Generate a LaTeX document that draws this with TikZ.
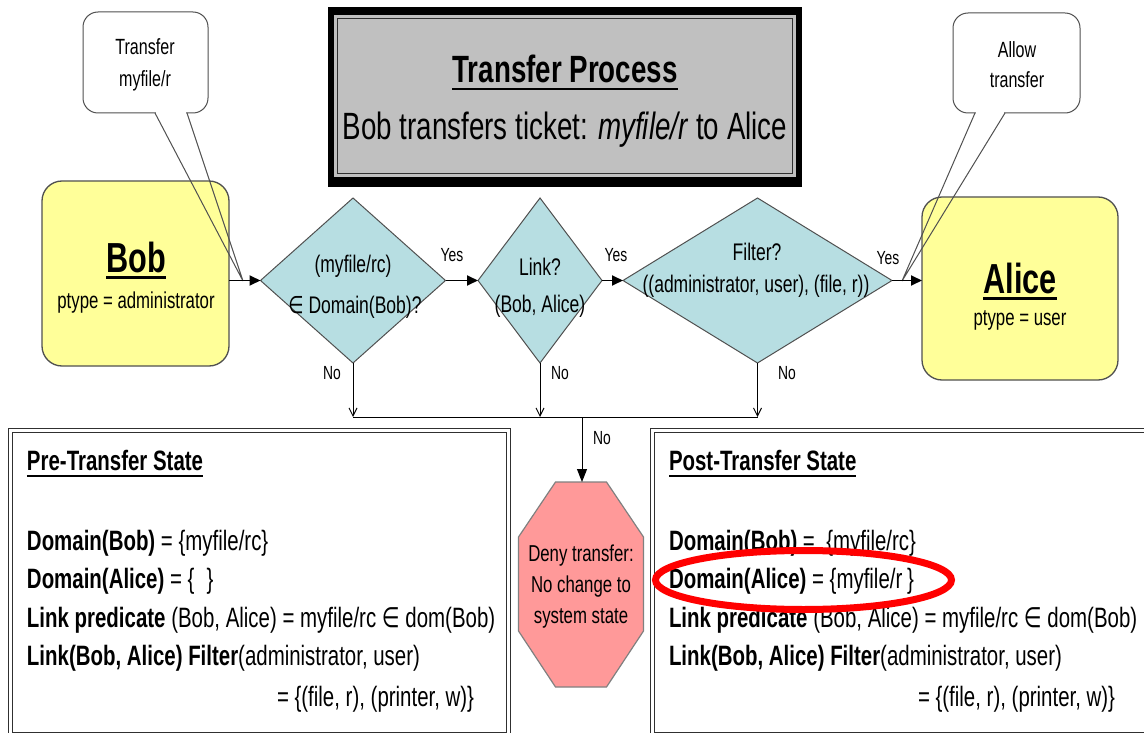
\documentclass[tikz,border=0pt]{standalone}
\usepackage{fontspec}
\setmainfont{Liberation Sans}[FakeStretch=0.73]
\newfontfamily\symfont{DejaVu Sans}[FakeStretch=0.73]
\usetikzlibrary{arrows.meta,shapes.geometric,calc,backgrounds}

\definecolor{boxyellow}{RGB}{255,255,153}
\definecolor{decisionteal}{RGB}{183,222,226}
\definecolor{denyred}{RGB}{255,153,153}
\definecolor{titlegray}{RGB}{192,192,192}
\definecolor{edgegray}{RGB}{80,80,80}
\definecolor{framegray}{RGB}{48,48,48}

% text with an underline of given gap below the baseline and thickness
\newcommand\ulined[3]{\setbox0=\hbox{#3}\rlap{\vrule width\wd0 height -#1 depth \dimexpr#1+#2\relax}\box0}
\newcommand\fs[1]{\fontsize{#1}{#1}\selectfont}

\begin{document}
\begin{tikzpicture}[x=1pt,y=-1pt,
  every node/.style={inner sep=0pt,outer sep=0pt},
  actor/.style={draw=edgegray,line width=1.3pt,fill=boxyellow,rounded corners=20pt},
  calloutbox/.style={draw=edgegray,line width=1pt,fill=white,rounded corners=15pt},
  calloutline/.style={draw=edgegray,line width=1pt},
  decision/.style={diamond,draw=edgegray,line width=1pt,fill=decisionteal},
  flow/.style={line width=1.8pt,-{Triangle[length=11pt,width=10pt]}},
  noflow/.style={line width=1pt,-{Straight Barb[length=8pt,width=8pt]}},
  denyflow/.style={line width=1pt,-{Triangle[length=13pt,width=10pt]}},
  lbl/.style={font=\fs{19}},
  dtext/.style={anchor=base,font=\fs{24}},
  statetext/.style={anchor=base west,font=\fs{28}},
  stateframe/.style={draw=framegray,line width=1pt}]
\useasboundingbox (0,0) rectangle (1144,733);

% ---------- title panel ----------
\fill[black] (328,7) rectangle (802,187);
\fill[titlegray] (334,15) rectangle (796,177);
\draw[framegray,line width=1.2pt] (337.5,18.5) rectangle (792.5,173.5);
\node[anchor=base,font=\fs{38}\bfseries] (title) at (565,83) {\ulined{5pt}{2pt}{Transfer Process}};
\node[anchor=base,font=\fs{38}] (subtitle) at (565,140) {Bob transfers ticket: \textit{myfile/r} to Alice};

% ---------- state panels ----------
\draw[stateframe] (8,428) rectangle (510,745);
\draw[stateframe] (12,432) rectangle (506,732);
\draw[stateframe] (650,428) rectangle (1160,745);
\draw[stateframe] (654,432) rectangle (1156,732);

\node[statetext] (pretitle) at (27,470) {\bfseries\ulined{5pt}{1.5pt}{Pre-Transfer State}};
\node[statetext] (pre1) at (27,550) {\textbf{Domain(Bob)} = \{myfile/rc\}};
\node[statetext] (pre2) at (27,588) {\textbf{Domain(Alice)} = \{\hspace{12pt}\}};
\node[statetext] (pre3) at (27,627) {\textbf{Link predicate} (Bob, Alice) = myfile/rc {\symfont ∈} dom(Bob)};
\node[statetext] (pre4) at (27,665) {\textbf{Link(Bob, Alice) Filter}(administrator, user)};
\node[statetext] (pre5) at (277,706) {= \{(file, r), (printer, w)\}};

\node[statetext] (posttitle) at (669,470) {\bfseries\ulined{5pt}{1.5pt}{Post-Transfer State}};
\node[statetext] (post1) at (669,550) {\textbf{Domain(Bob)} = \ \{myfile/rc\}};
\node[statetext] (post2) at (669,588) {\textbf{Domain(Alice)} = \{myfile/r\,\}};
\node[statetext] (post3) at (669,627) {\textbf{Link predicate} (Bob, Alice) = myfile/rc {\symfont ∈} dom(Bob)};
\node[statetext] (post4) at (669,665) {\textbf{Link(Bob, Alice) Filter}(administrator, user)};
\node[statetext] (post5) at (918,706) {= \{(file, r), (printer, w)\}};

% ---------- principals ----------
\node[actor,minimum width=187pt,minimum height=185pt] (bob) at (135.5,273.5) {};
\node[anchor=base,font=\fs{42}\bfseries] (bobname) at (136,272) {\ulined{4pt}{3pt}{Bob}};
\node[anchor=base,font=\fs{23}] (bobtype) at (136,308) {ptype = administrator};

\node[actor,minimum width=196pt,minimum height=183pt] (alice) at (1020,288.5) {};
\node[anchor=base,font=\fs{42}\bfseries] (alicename) at (1020,293) {\ulined{4pt}{3pt}{Alice}};
\node[anchor=base,font=\fs{23}] (alicetype) at (1020,325) {ptype = user};

% ---------- speech callouts ----------
\node[calloutbox,minimum width=125pt,minimum height=101pt] (callbob) at (145.5,62.5) {};
\node[anchor=base,font=\fs{22}] (callbob1) at (145,55) {Transfer};
\node[anchor=base,font=\fs{22}] (callbob2) at (145,87) {myfile/r};
\coordinate (bobtip) at (243,281);
\draw[white,line width=2.5pt] (156,113) -- (186,113);
\draw[calloutline] (155,113) -- (bobtip) -- (187,113);

\node[calloutbox,minimum width=127pt,minimum height=100pt] (callalice) at (1016.5,63) {};
\node[anchor=base,font=\fs{22}] (callalice1) at (1017,58) {Allow};
\node[anchor=base,font=\fs{22}] (callalice2) at (1017,88) {transfer};
\coordinate (alicetip) at (902,281);
\draw[white,line width=2.5pt] (976,113) -- (1004,113);
\draw[calloutline] (975,113) -- (alicetip) -- (1005,113);

% ---------- decisions ----------
\node[decision,minimum width=185pt,minimum height=165pt] (d1) at (353,280.5) {};
\node[dtext] (d1a) at (353,272) {(myfile/rc)};
\node[dtext] (d1b) at (355,313) {{\symfont ∈} Domain(Bob)?};

\node[decision,minimum width=124pt,minimum height=165pt] (d2) at (540,280.5) {};
\node[dtext] (d2a) at (540,275) {Link?};
\node[dtext] (d2b) at (540,312) {(Bob, Alice)};

\node[decision,minimum width=269pt,minimum height=165pt] (d3) at (757.5,280.5) {};
\node[dtext] (d3a) at (757,260) {Filter?};
\node[dtext] (d3b) at (756,292) {((administrator, user), (file, r))};

% ---------- deny terminal ----------
\node[minimum width=125pt,minimum height=204pt,align=center,font=\fontsize{23}{31}\selectfont] (deny) at (581,587) {Deny transfer:\\No change to\\system state};
\begin{scope}[on background layer]
\filldraw[fill=denyred,draw=gray,line width=1.2pt]
  ($(deny.north west)+(37,-3)$) -- ($(deny.north east)+(-37,-3)$) -- ($(deny.north east)+(0,52)$)
  -- ($(deny.south east)+(0,-58)$) -- ($(deny.south east)+(-37,-2)$) -- ($(deny.south west)+(37,-2)$)
  -- ($(deny.south west)+(0,-58)$) -- ($(deny.north west)+(0,52)$) -- cycle;
\end{scope}

% ---------- connectors ----------
\draw[flow] (bob.east |- d1.west) -- (d1.west);
\draw[flow] (d1.east) -- (d2.west);
\draw[flow] (d2.east) -- (d3.west);
\draw[flow] (d3.east) -- (alice.west |- d3.east);

\coordinate (join) at (582,417);
\draw[noflow] (d1.south) -- (d1.south |- join);
\draw[noflow] (d2.south) -- (d2.south |- join);
\draw[noflow] (d3.south) -- (d3.south |- join);
\draw[line width=1pt] (d1.south |- join) -- (d3.south |- join);
\draw[denyflow] (join) -- ($(join |- deny.north)+(0,-3)$);

\node[lbl] (yes1) at (452,255) {Yes};
\node[lbl] (yes2) at (616,255) {Yes};
\node[lbl] (yes3) at (888,258) {Yes};
\node[lbl] (no1) at (332,373) {No};
\node[lbl] (no2) at (560,373) {No};
\node[lbl] (no3) at (787,373) {No};
\node[lbl] (no4) at (602,438) {No};

% ---------- highlight of the changed domain ----------
\node[ellipse,draw=red,line width=7pt,minimum width=296pt,minimum height=59pt] (highlight) at (803.5,580) {};
\end{tikzpicture}
\end{document}
